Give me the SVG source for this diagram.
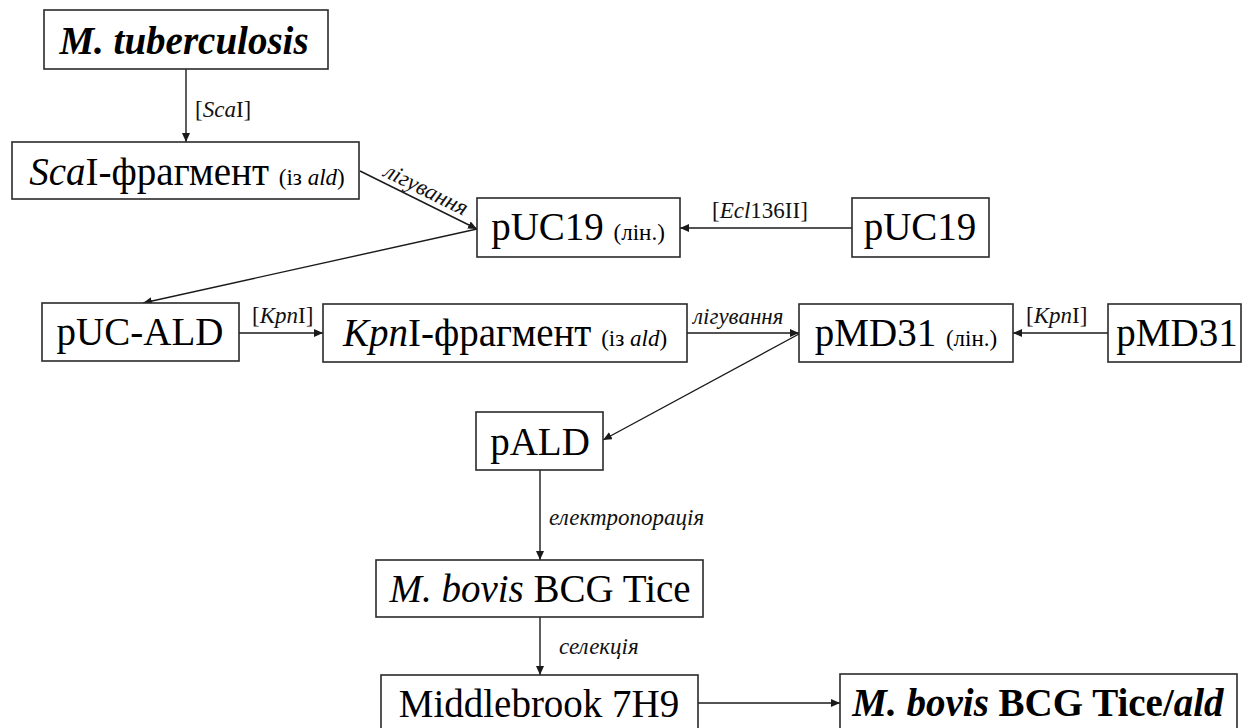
<svg xmlns="http://www.w3.org/2000/svg" width="1243" height="728" viewBox="0 0 1243 728">
  <style>
    .box { fill: #ffffff; stroke: #2a2a2a; stroke-width: 1.6; }
    text { font-family: 'Liberation Serif', Tinos, 'Times New Roman', 'DejaVu Serif', serif; }
    .lbl { font-size: 39px; fill: #000; text-anchor: middle; }
    .sm { font-size: 23px; }
    .it { font-style: italic; }
    .bd { font-weight: bold; }
    .note { font-size: 23px; fill: #111; }
    .edge { stroke: #1a1a1a; stroke-width: 1.4; fill: none; marker-end: url(#arrow); }
  </style>
  <defs>
    <marker id="arrow" markerUnits="userSpaceOnUse" markerWidth="9" markerHeight="8" refX="9" refY="4" orient="auto">
      <path d="M0,0 L9,4 L0,8 Z" fill="#1a1a1a"/>
    </marker>
  </defs>
  <rect width="1243" height="728" fill="#ffffff"/>

  <!-- connectors and their labels -->
  <g id="connectors" font-family="Liberation Serif, Tinos, Times New Roman, DejaVu Serif, serif">
    <line class="edge" x1="186" y1="69" x2="186" y2="142"/>
    <line class="edge" x1="360" y1="171" x2="477" y2="229"/>
    <line class="edge" x1="852" y1="228" x2="680" y2="228"/>
    <line class="edge" x1="477" y1="229" x2="143" y2="303"/>
    <line class="edge" x1="239" y1="333" x2="323" y2="333"/>
    <line class="edge" x1="687" y1="333" x2="799" y2="333"/>
    <line class="edge" x1="1108" y1="333" x2="1013" y2="333"/>
    <line class="edge" x1="799" y1="334" x2="603" y2="440"/>
    <line class="edge" x1="540" y1="470" x2="540" y2="560"/>
    <line class="edge" x1="540" y1="617" x2="540" y2="675"/>
    <line class="edge" x1="698" y1="703" x2="840" y2="703"/>

    <text class="note" x="195" y="117">[<tspan class="it">Sca</tspan>I]</text>
    <text class="note it" x="0" y="0" text-anchor="middle" transform="translate(423,196) rotate(26.4)">лігування</text>
    <text class="note" x="712" y="218">[<tspan class="it">Ecl</tspan>136II]</text>
    <text class="note" x="252" y="323">[<tspan class="it">Kpn</tspan>I]</text>
    <text class="note it" x="693" y="324">лігування</text>
    <text class="note" x="1026" y="323">[<tspan class="it">Kpn</tspan>I]</text>
    <text class="note it" x="549" y="525">електропорація</text>
    <text class="note it" x="559" y="654">селекція</text>
  </g>

  <g id="mtb">
    <rect class="box" x="44" y="10" width="284" height="59"/>
    <text class="lbl bd it" x="184" y="54">M. tuberculosis</text>
  </g>

  <g id="scai-fragment">
    <rect class="box" x="12" y="142" width="347" height="57"/>
    <text class="lbl" x="187" y="185"><tspan class="it">Sca</tspan>I-фрагмент <tspan class="sm">(із <tspan class="it">ald</tspan>)</tspan></text>
  </g>

  <g id="puc19-lin">
    <rect class="box" x="477" y="198" width="203" height="59"/>
    <text class="lbl" x="578" y="240">pUC19 <tspan class="sm">(лін.)</tspan></text>
  </g>

  <g id="puc19">
    <rect class="box" x="852" y="198" width="137" height="59"/>
    <text class="lbl" x="920" y="240">pUC19</text>
  </g>

  <g id="puc-ald">
    <rect class="box" x="42" y="303" width="197" height="58"/>
    <text class="lbl" x="140" y="345">pUC-ALD</text>
  </g>

  <g id="kpni-fragment">
    <rect class="box" x="323" y="304" width="364" height="58"/>
    <text class="lbl" x="505" y="346"><tspan class="it">Kpn</tspan>I-фрагмент <tspan class="sm">(із <tspan class="it">ald</tspan>)</tspan></text>
  </g>

  <g id="pmd31-lin">
    <rect class="box" x="799" y="304" width="214" height="58"/>
    <text class="lbl" x="906" y="346">pMD31 <tspan class="sm">(лін.)</tspan></text>
  </g>

  <g id="pmd31">
    <rect class="box" x="1108" y="304" width="133" height="58"/>
    <text class="lbl" x="1177" y="346">pMD31</text>
  </g>

  <g id="pald">
    <rect class="box" x="476" y="412" width="127" height="58"/>
    <text class="lbl" x="540" y="455">pALD</text>
  </g>

  <g id="bcg-tice">
    <rect class="box" x="376" y="560" width="327" height="57"/>
    <text class="lbl" x="540" y="602"><tspan class="it">M. bovis</tspan> BCG Tice</text>
  </g>

  <g id="middlebrook">
    <rect class="box" x="381" y="675" width="317" height="60"/>
    <text class="lbl" x="539" y="717">Middlebrook 7H9</text>
  </g>

  <g id="bcg-tice-ald">
    <rect class="box" x="840" y="674" width="397" height="60"/>
    <text class="lbl bd" x="1038" y="716"><tspan class="it">M. bovis</tspan> BCG Tice/<tspan class="it">ald</tspan></text>
  </g>
</svg>
